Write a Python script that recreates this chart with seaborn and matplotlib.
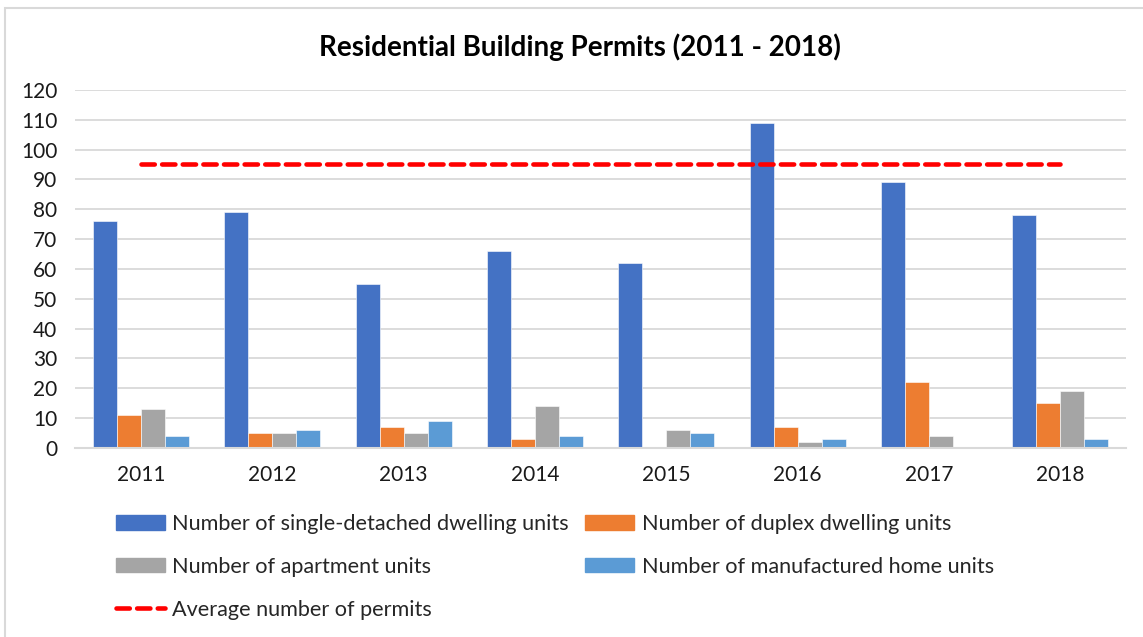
import numpy as np
import pandas as pd
import matplotlib
matplotlib.use('Agg')
import matplotlib.pyplot as plt
import seaborn as sns
from matplotlib.patches import Patch, Rectangle
from matplotlib.lines import Line2D

years = ['2011', '2012', '2013', '2014', '2015', '2016', '2017', '2018']
single = [76, 79, 55, 66, 62, 109, 89, 78]
duplex = [11, 5, 7, 3, 0, 7, 22, 15]
apartment = [13, 5, 5, 14, 6, 2, 4, 19]
manufactured = [4, 6, 9, 4, 5, 3, 0, 3]
average = [95] * 8

series_names = ['Number of single-detached dwelling units',
                'Number of duplex dwelling units',
                'Number of apartment units',
                'Number of manufactured home units']
avg_name = 'Average number of permits'
colors = ['#4472C4', '#ED7D31', '#A5A5A5', '#5B9BD5']

df = pd.DataFrame({'year': years, series_names[0]: single, series_names[1]: duplex,
                   series_names[2]: apartment, series_names[3]: manufactured})
long = df.melt(id_vars='year', var_name='series', value_name='count')

sns.set_style('white')
plt.rcParams['font.family'] = ['Lato', 'DejaVu Sans']

fig = plt.figure(figsize=(11.43, 6.37), dpi=100)
ax = fig.add_axes([0.066, 0.2967, 0.919, 0.5623])

sns.barplot(data=long, x='year', y='count', hue='series', palette=colors, saturation=1,
            width=0.73, edgecolor='white', linewidth=0.4, ax=ax, legend=False)
ax.plot(np.arange(len(years)), average, color='#FF0000', lw=3.3,
        dashes=(2.9, 1.6), dash_capstyle='round', zorder=5)

ax.set_xlim(-0.5, 7.5)
ax.set_ylim(0, 120)
ax.set_yticks(range(0, 121, 10))
ax.yaxis.grid(True, color='#D9D9D9', lw=1.3)
ax.set_axisbelow(True)
for s in ['top', 'right', 'left']:
    ax.spines[s].set_visible(False)
ax.spines['bottom'].set_color('#D9D9D9')
ax.spines['bottom'].set_linewidth(1.5)
ax.set_xlabel('')
ax.set_ylabel('')
ax.tick_params(axis='y', length=0, pad=13, labelsize=15, labelcolor='#1a1a1a')
ax.tick_params(axis='x', length=0, pad=12, labelsize=15, labelcolor='#1a1a1a')

fig.text(0.507, 0.926, 'Residential Building Permits (2011 - 2018)', ha='center', va='center',
         fontsize=20, fontweight='bold', color='black')

handles = [Patch(color=colors[0]), Patch(color=colors[2]),
           Line2D([], [], color='#FF0000', lw=3.3, dashes=(2.9, 1.6), dash_capstyle='round'),
           Patch(color=colors[1]), Patch(color=colors[3])]
labels = [series_names[0], series_names[2], avg_name, series_names[1], series_names[3]]
fig.legend(handles, labels, ncol=2, loc='upper left', bbox_to_anchor=(0.092, 0.21),
           frameon=False, fontsize=15.6, handlelength=2.25, handleheight=0.65,
           handletextpad=0.35, columnspacing=0.75, labelspacing=1.05, borderpad=0)

fig.patches.append(Rectangle((0.004, -0.01), 1.2, 0.998, transform=fig.transFigure,
                             fill=False, edgecolor='#D9D9D9', lw=1.5))

fig.savefig('out.png', dpi=100)
